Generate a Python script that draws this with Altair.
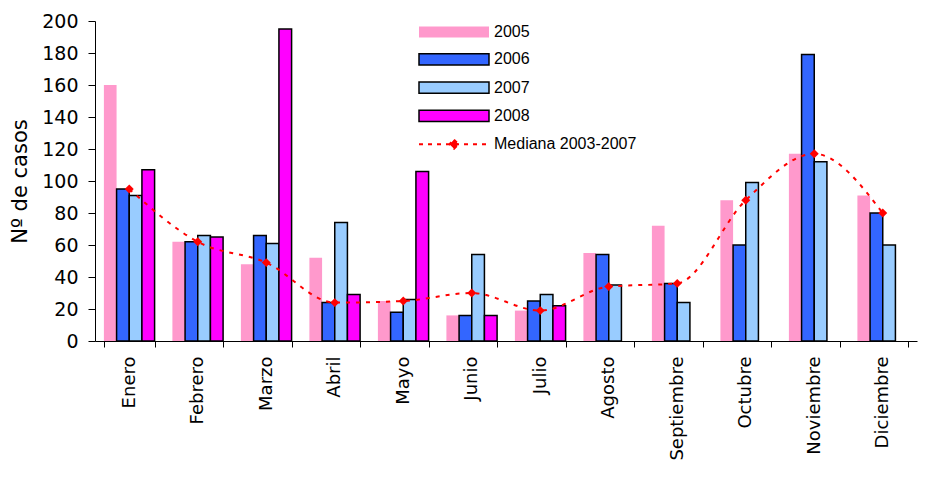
import altair as alt
import pandas as pd

months = ["Enero", "Febrero", "Marzo", "Abril", "Mayo", "Junio", "Julio",
          "Agosto", "Septiembre", "Octubre", "Noviembre", "Diciembre"]
years = ["2005", "2006", "2007", "2008"]
v2005 = [160, 62, 48, 52, 25, 16, 19, 55, 72, 88, 117, 91]
v2006 = [95, 62, 66, 24, 18, 16, 25, 54, 36, 60, 179, 80]
v2007 = [91, 66, 61, 74, 26, 54, 29, 35, 24, 99, 112, 60]
v2008 = [107, 65, 195, 29, 106, 16, 22, None, None, None, None, None]
mediana = [95, 62, 49, 24, 25, 30, 19, 34, 36, 88, 117, 80]
median_label = "Mediana 2003-2007"
y_ticks = [0, 20, 40, 60, 80, 100, 120, 140, 160, 180, 200]

colors = ["#FF99CC", "#3366FF", "#99CCFF", "#FF00FF", "#FF0000"]

rows = []
for y, vals in zip(years, [v2005, v2006, v2007, v2008]):
    for m, v in zip(months, vals):
        if v is not None:
            rows.append({"mes": m, "anio": y, "casos": v})
bars_df = pd.DataFrame(rows)
med_df = pd.DataFrame({"mes": months, "mediana": mediana})

x_scale = alt.Scale(domain=months, paddingInner=0.26, paddingOuter=0.13)
y_scale = alt.Scale(domain=[0, 200], nice=False)
y_axis = alt.Axis(values=y_ticks, labelOverlap=False, title="Nº de casos")

is_med = f"datum.value === '{median_label}'"
legend = alt.Legend(
    title=None, orient="none", legendX=351, legendY=3, direction="vertical",
    symbolType={"expr": f"{is_med} ? 'M-1,0H1M0,-0.13L0.13,0L0,0.13L-0.13,0Z' : 'M-1,-0.16H1V0.16H-1Z'"},
    symbolSize=4900,
    symbolDash={"expr": f"{is_med} ? [4,5] : []"},
    symbolStrokeWidth={"expr": f"datum.value === '2005' ? 0 : ({is_med} ? 2 : 1.5)"},
    symbolStrokeColor={"expr": f"{is_med} ? '#FF0000' : '#000000'"},
    symbolOpacity=1,
    rowPadding=10.3, labelFont="Liberation Sans", labelFontSize=16,
    labelColor="#000000", labelOffset=32, padding=0,
)

bars = alt.Chart(bars_df).mark_bar(opacity=1).encode(
    x=alt.X("mes:N", scale=x_scale, sort=months, title=None),
    xOffset=alt.XOffset("anio:N", scale=alt.Scale(domain=years, paddingInner=0, paddingOuter=0)),
    y=alt.Y("casos:Q", scale=y_scale, axis=y_axis),
    color=alt.Color("anio:N", scale=alt.Scale(domain=years + [median_label], range=colors), legend=legend),
    stroke=alt.condition("datum.anio === '2005'", alt.value("transparent"), alt.value("#000000")),
    strokeWidth=alt.condition("datum.anio === '2005'", alt.value(0), alt.value(1.5)),
)

line = alt.Chart(med_df).mark_line(color="#FF0000", strokeWidth=2, strokeDash=[4, 6],
                                   interpolate="monotone").encode(
    x=alt.X("mes:N", scale=x_scale, sort=months, title=None),
    y=alt.Y("mediana:Q", scale=y_scale, axis=y_axis),
)
points = alt.Chart(med_df).mark_point(shape="diamond", filled=True, size=80,
                                      color="#FF0000", opacity=1).encode(
    x=alt.X("mes:N", scale=x_scale, sort=months, title=None),
    y=alt.Y("mediana:Q", scale=y_scale, axis=y_axis),
)

chart = alt.layer(bars, line, points).properties(
    width=822, height=320,
    autosize=alt.AutoSizeParams(type="none"),
    padding={"left": 87, "top": 13, "right": 3, "bottom": 123},
    background="#FFFFFF",
).configure_view(stroke=None).configure_axisY(
    labelFont="DejaVu Sans", labelFontSize=19, labelColor="#000000", labelOverlap=False,
    tickSize=7, tickColor="#000000", domainColor="#000000", labelPadding=10,
    grid=False, titleFont="DejaVu Sans", titleFontSize=21, titleFontWeight="normal",
    titleColor="#000000", titleAngle=270, titleAlign="center", titleBaseline="middle",
    titleX=-75, titleY=160,
).configure_axisX(
    labelFont="DejaVu Sans", labelFontSize=18, labelColor="#000000",
    labelAngle=270, labelAlign="right", labelBaseline="middle", labelPadding=9,
    tickSize=6, tickColor="#000000", domainColor="#000000", tickBand="extent",
    grid=False,
)

chart.save("out.html", embed_options={"renderer": "svg", "actions": False})
